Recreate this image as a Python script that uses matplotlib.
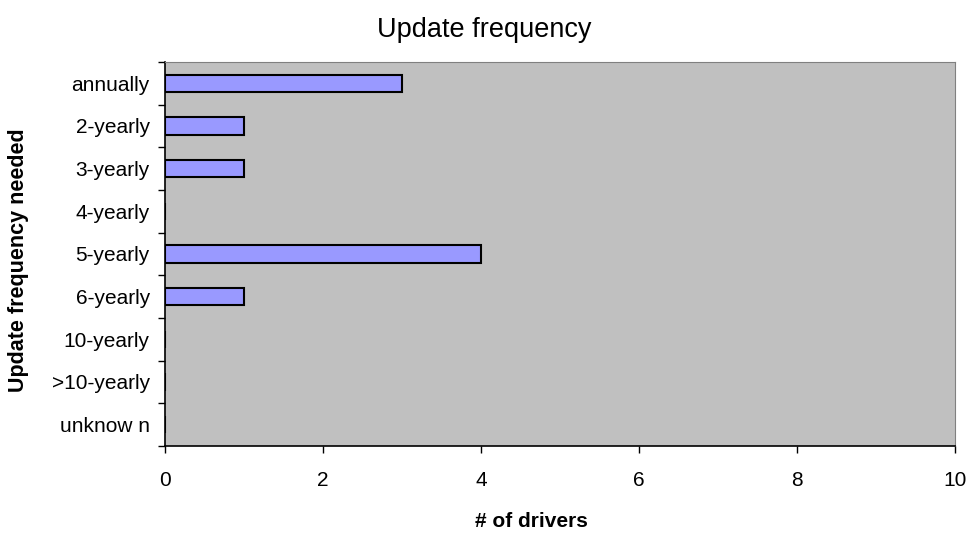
import matplotlib.pyplot as plt
import numpy as np

plt.rcParams['font.family'] = ['Liberation Sans', 'DejaVu Sans']

categories = ["annually", "2-yearly", "3-yearly", "4-yearly", "5-yearly",
              "6-yearly", "10-yearly", ">10-yearly", "unknow n"]
drivers = [3, 1, 1, 0, 4, 1, 0, 0, 0]

fig = plt.figure(figsize=(9.72, 5.34), dpi=100)
ax = fig.add_axes([0.1698, 0.1648, 0.8127, 0.7191])
ax.set_facecolor("#C0C0C0")

pos = np.arange(len(categories))
ax.barh(pos, drivers, height=0.4, color="#9999FF", edgecolor="black", linewidth=1.5)

ax.set_xlim(0, 10)
ax.set_ylim(len(categories) - 0.5, -0.5)
ax.set_xticks(range(0, 11, 2))
ax.set_yticks(pos)
ax.set_yticklabels(categories)
ax.set_yticks(np.arange(-0.5, len(categories)), minor=True)
ax.tick_params(axis="y", which="major", length=0, pad=11, labelsize=15)
ax.tick_params(axis="y", which="minor", length=5, width=1)
ax.tick_params(axis="x", length=5, width=1, pad=13, labelsize=15)

for side in ["top", "right"]:
    ax.spines[side].set_color("#808080")
for side in ["left", "bottom"]:
    ax.spines[side].set_linewidth(1.2)

fig.text(0.498, 0.944, "Update frequency", fontsize=19.5, ha="center", va="center")
fig.text(0.547, 0.024, "# of drivers", fontsize=15, fontweight="bold",
         ha="center", va="center")
fig.text(0.019, 0.513, "Update frequency needed", fontsize=15.5, fontweight="bold",
         rotation=90, ha="center", va="center")

fig.savefig("out.png")
